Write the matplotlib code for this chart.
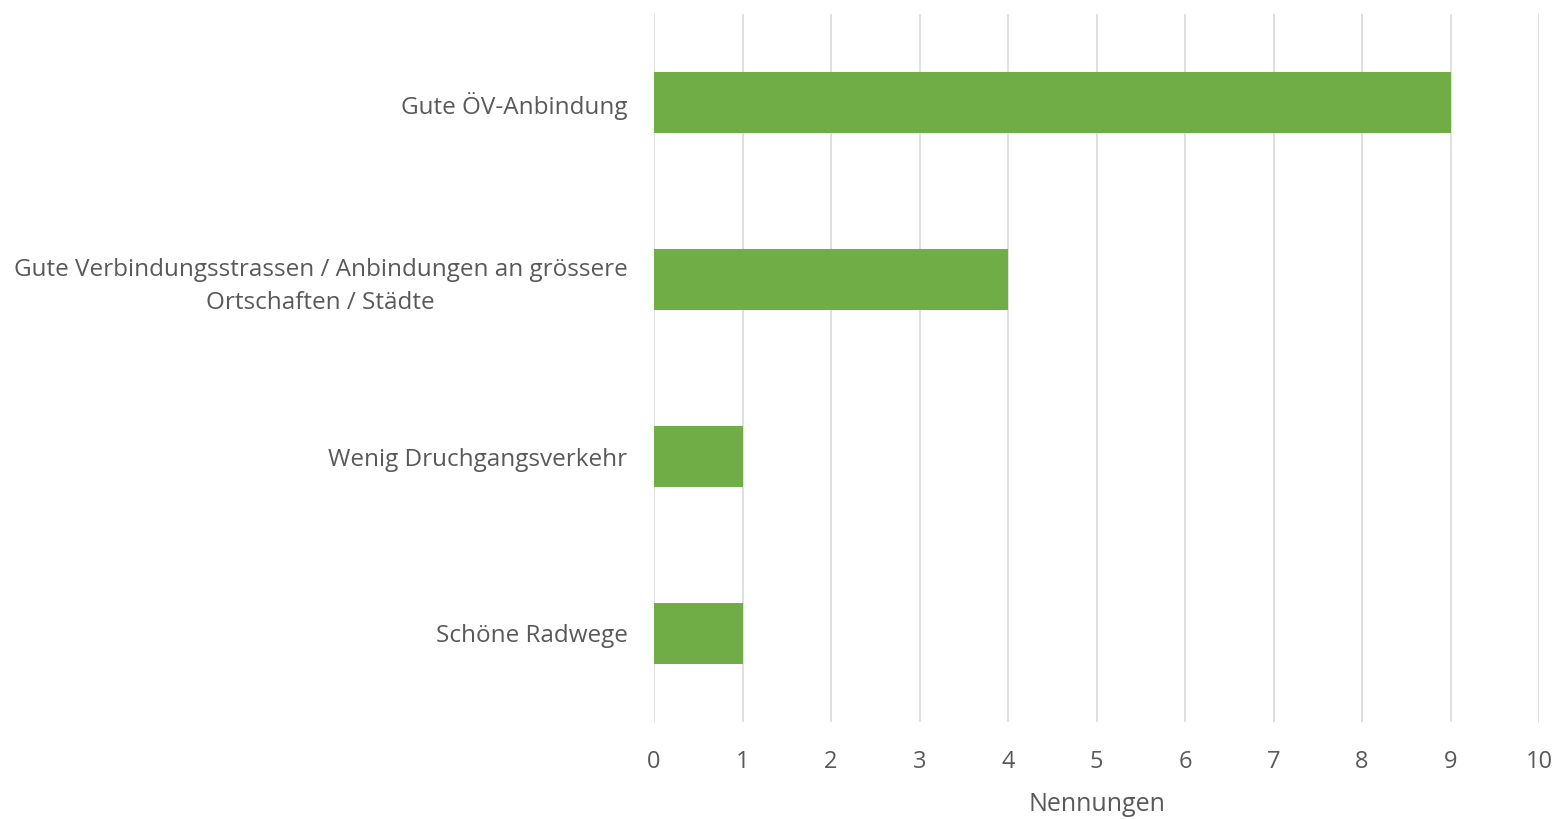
import matplotlib.pyplot as plt

categories = ['Gute ÖV-Anbindung',
              'Gute Verbindungsstrassen / Anbindungen an grössere\nOrtschaften / Städte',
              'Wenig Druchgangsverkehr',
              'Schöne Radwege']
values = [9, 4, 1, 1]

plt.rcParams['font.family'] = ['Open Sans', 'DejaVu Sans']
txt = '#595959'

fig = plt.figure(figsize=(15.58, 8.19), dpi=100)
ax = fig.add_axes([654/1558, 1-722/819, (1539-654)/1558, (722-14)/819])

pos = list(range(len(categories)))
ax.barh(pos, values, height=0.35, color='#70AD47', zorder=3)
ax.set_ylim(3.5, -0.5)
ax.set_xlim(0, 10)
ax.set_xticks(range(0, 11))
ax.set_yticks(pos)
ax.set_yticklabels(categories, fontsize=17.5, color=txt, multialignment='center', linespacing=1.45)
ax.tick_params(axis='x', labelsize=17, colors=txt, length=0, pad=20)
ax.tick_params(axis='y', length=0, pad=19)
ax.grid(axis='x', color='#D9D9D9', linewidth=1.2, zorder=0)
for s in ax.spines.values():
	s.set_visible(False)
ax.set_xlabel('Nennungen', fontsize=18, color=txt, labelpad=13)

fig.savefig('out.png', dpi=100)
plt.close()
